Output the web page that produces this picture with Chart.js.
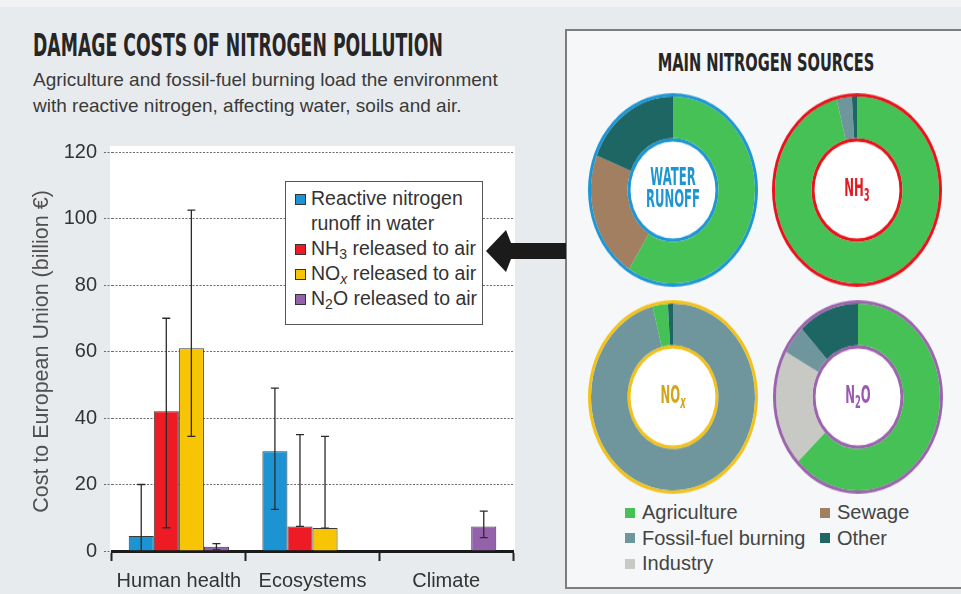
<!DOCTYPE html>
<html>
<head>
<meta charset="utf-8">
<script src="https://cdn.jsdelivr.net/npm/chart.js@4.4.1/dist/chart.umd.min.js"></script>
<style>
  html, body { margin: 0; padding: 0; }
  body { width: 961px; height: 594px; position: relative; overflow: hidden; background: #e8ebed; font-family: 'Liberation Sans', Arial, sans-serif; }
  .topstrip { position: absolute; left: 0; top: 0; width: 961px; height: 7px; background: #f1f2f3; }
  .title { position: absolute; left: 33px; top: 29px; font: bold 32px/32px 'DejaVu Sans Condensed', 'DejaVu Sans', sans-serif; color: #262626; white-space: nowrap; transform: scaleX(0.6); transform-origin: left center; }
  .subtitle { position: absolute; left: 33px; top: 67px; font-size: 19px; line-height: 26px; color: #3a3a3a; white-space: nowrap; }
  #barWrap { position: absolute; left: 0; top: 130px; width: 540px; height: 464px; }
  .legend { position: absolute; left: 285px; top: 181px; width: 196px; height: 138px; background: #fff; border: 1.5px solid #555; padding: 4px 0 0 0; box-sizing: content-box; z-index: 2; }
  .legend .row { position: relative; padding-left: 25px; font-size: 19.5px; line-height: 25px; color: #333; }
  .legend .sw { position: absolute; left: 9px; top: 8px; width: 9px; height: 9px; border: 1px solid #333; }
  sub { font-size: 0.72em; line-height: 0; vertical-align: -0.3em; }
  .arrow { position: absolute; left: 480px; top: 225px; z-index: 3; }
  .panel { position: absolute; left: 565px; top: 29px; width: 400px; height: 556px; background: #f5f7f8; border: 2px solid #7d7d7d; }
  .ptitle { position: absolute; left: 568px; top: 50px; width: 396px; text-align: center; font: bold 25px/25px 'DejaVu Sans Condensed', 'DejaVu Sans', sans-serif; color: #262626; transform: scaleX(0.65); transform-origin: center; white-space: nowrap; }
  .donut { position: absolute; width: 176px; height: 176px; transform: scaleY(1.14); transform-origin: center; }
  .dlabel { position: absolute; width: 120px; text-align: center; font: bold 22px/20px 'DejaVu Sans Condensed', 'DejaVu Sans', sans-serif; transform: scale(0.59, 1.14); transform-origin: center; }
  .slegend { position: absolute; left: 625px; top: 500px; display: grid; grid-template-columns: 195px auto; grid-auto-rows: 25.5px; font-size: 20px; color: #444; }
  .slegend .it { display: flex; align-items: center; white-space: nowrap; }
  .slegend .sq { width: 10px; height: 10px; margin-right: 7px; }
</style>
</head>
<body>
<div class="topstrip"></div>
<div class="title">DAMAGE COSTS OF NITROGEN POLLUTION</div>
<div class="subtitle">Agriculture and fossil-fuel burning load the environment<br>with reactive nitrogen, affecting water, soils and air.</div>

<div id="barWrap"><canvas id="barChart" width="540" height="464"></canvas></div>
<div class="legend" id="barLegend"></div>

<svg class="arrow" width="90" height="52" viewBox="480 225 90 52">
  <polygon points="486,251 506,230 511,243 566,243 566,259 511,259 506,272" fill="#1b1b1b"/>
</svg>

<div class="panel"></div>
<div class="ptitle">MAIN NITROGEN SOURCES</div>

<div class="donut" style="left:585px;top:102px"><canvas id="dWater" width="176" height="176"></canvas></div>
<div class="donut" style="left:769px;top:102px"><canvas id="dNH3" width="176" height="176"></canvas></div>
<div class="donut" style="left:585px;top:309px"><canvas id="dNOx" width="176" height="176"></canvas></div>
<div class="donut" style="left:770px;top:309px"><canvas id="dN2O" width="176" height="176"></canvas></div>

<div class="dlabel" style="left:613px;top:168px;color:#1e96d4">WATER<br>RUNOFF</div>
<div class="dlabel" style="left:797px;top:178px;color:#e31b23">NH<sub>3</sub></div>
<div class="dlabel" style="left:613px;top:385px;color:#d2a51a">NO<sub><i>x</i></sub></div>
<div class="dlabel" style="left:798px;top:385px;color:#9b5ab0">N<sub>2</sub>O</div>

<div class="slegend" id="srcLegend"></div>

<script>
// bar chart data (billion euro)
const categories = ['Human health', 'Ecosystems', 'Climate']
const seriesLabels = ['Reactive nitrogen runoff in water', 'NH₃ released to air', 'NOₓ released to air', 'N₂O released to air']
const seriesColors = ['#1c93d3', '#ee1b24', '#f7c505', '#9462ab']

const runoffCost = [4.5, 30, null]
const nh3Cost = [42, 7.4, null]
const noxCost = [61, 6.9, null]
const n2oCost = [1.3, null, 7.4]

// error ranges [low, high]
const runoffRange = [[0, 20], [12.5, 49], null]
const nh3Range = [[7, 70], [7.4, 35], null]
const noxRange = [[34.5, 102.5], [6.9, 34.5], null]
const n2oRange = [[0.3, 2.2], null, [4, 12]]

const yMin = 0
const yMax = 120
const yStep = 20
const yTitle = 'Cost to European Union (billion €)'

// donut data (% share of each source)
const sourceLabels = ['Agriculture', 'Sewage', 'Fossil-fuel burning', 'Other', 'Industry']
const sourceColors = ['#45c155', '#a17f60', '#6f969d', '#1e6663', '#c8c8c4']

const waterLabels = ['Agriculture', 'Sewage', 'Other']
const waterShares = [59, 22, 19]
const nh3Labels = ['Agriculture', 'Fossil-fuel burning', 'Other']
const nh3Shares = [96, 3, 1]
const noxLabels = ['Fossil-fuel burning', 'Agriculture', 'Other']
const noxShares = [96, 3, 1]
const n2oLabels = ['Agriculture', 'Industry', 'Fossil-fuel burning', 'Other']
const n2oShares = [63, 20, 5, 12]


function subs(txt) {
    return txt.replace('₂', '<sub>2</sub>').replace('₃', '<sub>3</sub>').replace('ₓ', '<sub><i>x</i></sub>')
}

// legend for the bar chart
let lg = ''
for (let i = 0; i < seriesLabels.length; i++) {
    lg += '<div class="row"><span class="sw" style="background:' + seriesColors[i] + '"></span>' + subs(seriesLabels[i]) + '</div>'
}
document.getElementById('barLegend').innerHTML = lg

// legend for the sources
let sl = ''
for (let i = 0; i < sourceLabels.length; i++) {
    sl += '<div class="it"><span class="sq" style="background:' + sourceColors[i] + '"></span>' + sourceLabels[i] + '</div>'
}
document.getElementById('srcLegend').innerHTML = sl


const plotBg = {
    id: 'plotBg',
    beforeDraw(chart) {
        const a = chart.chartArea
        const ctx = chart.ctx
        ctx.save()
        ctx.fillStyle = '#ffffff'
        ctx.fillRect(a.left - 2, a.top - 6, a.right - a.left + 4, a.bottom - a.top + 6)
        ctx.restore()
    }
}

const ranges = [runoffRange, nh3Range, noxRange, n2oRange]

const errorBars = {
    id: 'errorBars',
    afterDatasetsDraw(chart) {
        const ctx = chart.ctx
        const y = chart.scales.y
        ctx.save()
        ctx.strokeStyle = '#2b2b2b'
        ctx.lineWidth = 1.3
        ranges.forEach((rng, i) => {
            const meta = chart.getDatasetMeta(i)
            rng.forEach((r, j) => {
                if (!r) return
                const x = meta.data[j].x
                const lo = y.getPixelForValue(r[0])
                const hi = y.getPixelForValue(r[1])
                ctx.beginPath()
                ctx.moveTo(x, lo); ctx.lineTo(x, hi)
                ctx.moveTo(x - 4, hi); ctx.lineTo(x + 4, hi)
                ctx.moveTo(x - 4, lo); ctx.lineTo(x + 4, lo)
                ctx.stroke()
            })
        })
        ctx.restore()
    }
}

const barData = {
    labels: categories,
    datasets: [runoffCost, nh3Cost, noxCost, n2oCost].map((d, i) => ({
        label: seriesLabels[i],
        data: d,
        backgroundColor: seriesColors[i],
        borderColor: '#3a3a3a',
        borderWidth: 1,
        categoryPercentage: 0.75,
        barPercentage: 1.0
    }))
}

const barChart = new Chart(document.getElementById('barChart'), {
    type: 'bar',
    data: barData,
    plugins: [plotBg, errorBars],
    options: {
        responsive: false,
        animation: false,
        events: [],
        layout: { padding: { top: 22, right: 27, left: 0, bottom: 0 } },
        plugins: { legend: { display: false }, tooltip: { enabled: false } },
        scales: {
            x: {
                grid: { display: true, drawOnChartArea: false, offset: true, tickLength: 10, tickWidth: 2, tickColor: '#222' },
                border: { display: true, color: '#1b1b1b', width: 3 },
                ticks: { color: '#333', font: { family: 'Liberation Sans', size: 20 }, padding: 8 },
                afterFit: (s) => { s.height = 43 }
            },
            y: {
                min: yMin,
                max: yMax,
                ticks: { stepSize: yStep, color: '#333', font: { family: 'Liberation Sans', size: 20 }, padding: 7 },
                grid: { color: '#6a6a6a', lineWidth: 1, tickLength: 8, tickColor: '#6a6a6a', tickBorderDash: [2, 1.5] },
                border: { display: false, dash: [2, 1.5] },
                title: { display: true, text: yTitle, color: '#505050', font: { family: 'Liberation Sans', size: 21.5 }, padding: { top: 29, bottom: 0 } },
                afterFit: (s) => { s.width = 112 }
            }
        }
    }
})


// donuts
const holePlugin = {
    id: 'hole',
    beforeDatasetsDraw(chart) {
        const arc = chart.getDatasetMeta(chart.data.datasets.length - 1).data[0]
        const ctx = chart.ctx
        ctx.save()
        ctx.fillStyle = '#ffffff'
        ctx.beginPath()
        ctx.arc(arc.x, arc.y, arc.innerRadius, 0, Math.PI * 2)
        ctx.fill()
        ctx.restore()
    }
}

function makeDonut(id, labels, shares, ring) {
    return new Chart(document.getElementById(id), {
        type: 'doughnut',
        data: {
            labels: labels,
            datasets: [
                { data: [1], backgroundColor: [ring], borderWidth: 0, weight: 3 },
                { data: shares, backgroundColor: labels.map(l => sourceColors[sourceLabels.indexOf(l)]), borderWidth: 0, weight: 36.5 },
                { data: [1], backgroundColor: [ring], borderWidth: 0, weight: 3 }
            ]
        },
        plugins: [holePlugin],
        options: {
            responsive: false,
            animation: false,
            events: [],
            cutout: '50%',
            layout: { padding: 3 },
            plugins: { legend: { display: false }, tooltip: { enabled: false } }
        }
    })
}

makeDonut('dWater', waterLabels, waterShares, '#1e96d4')
makeDonut('dNH3', nh3Labels, nh3Shares, '#e8141c')
makeDonut('dNOx', noxLabels, noxShares, '#f2c21b')
makeDonut('dN2O', n2oLabels, n2oShares, '#9b64ad')
</script>
</body>
</html>
